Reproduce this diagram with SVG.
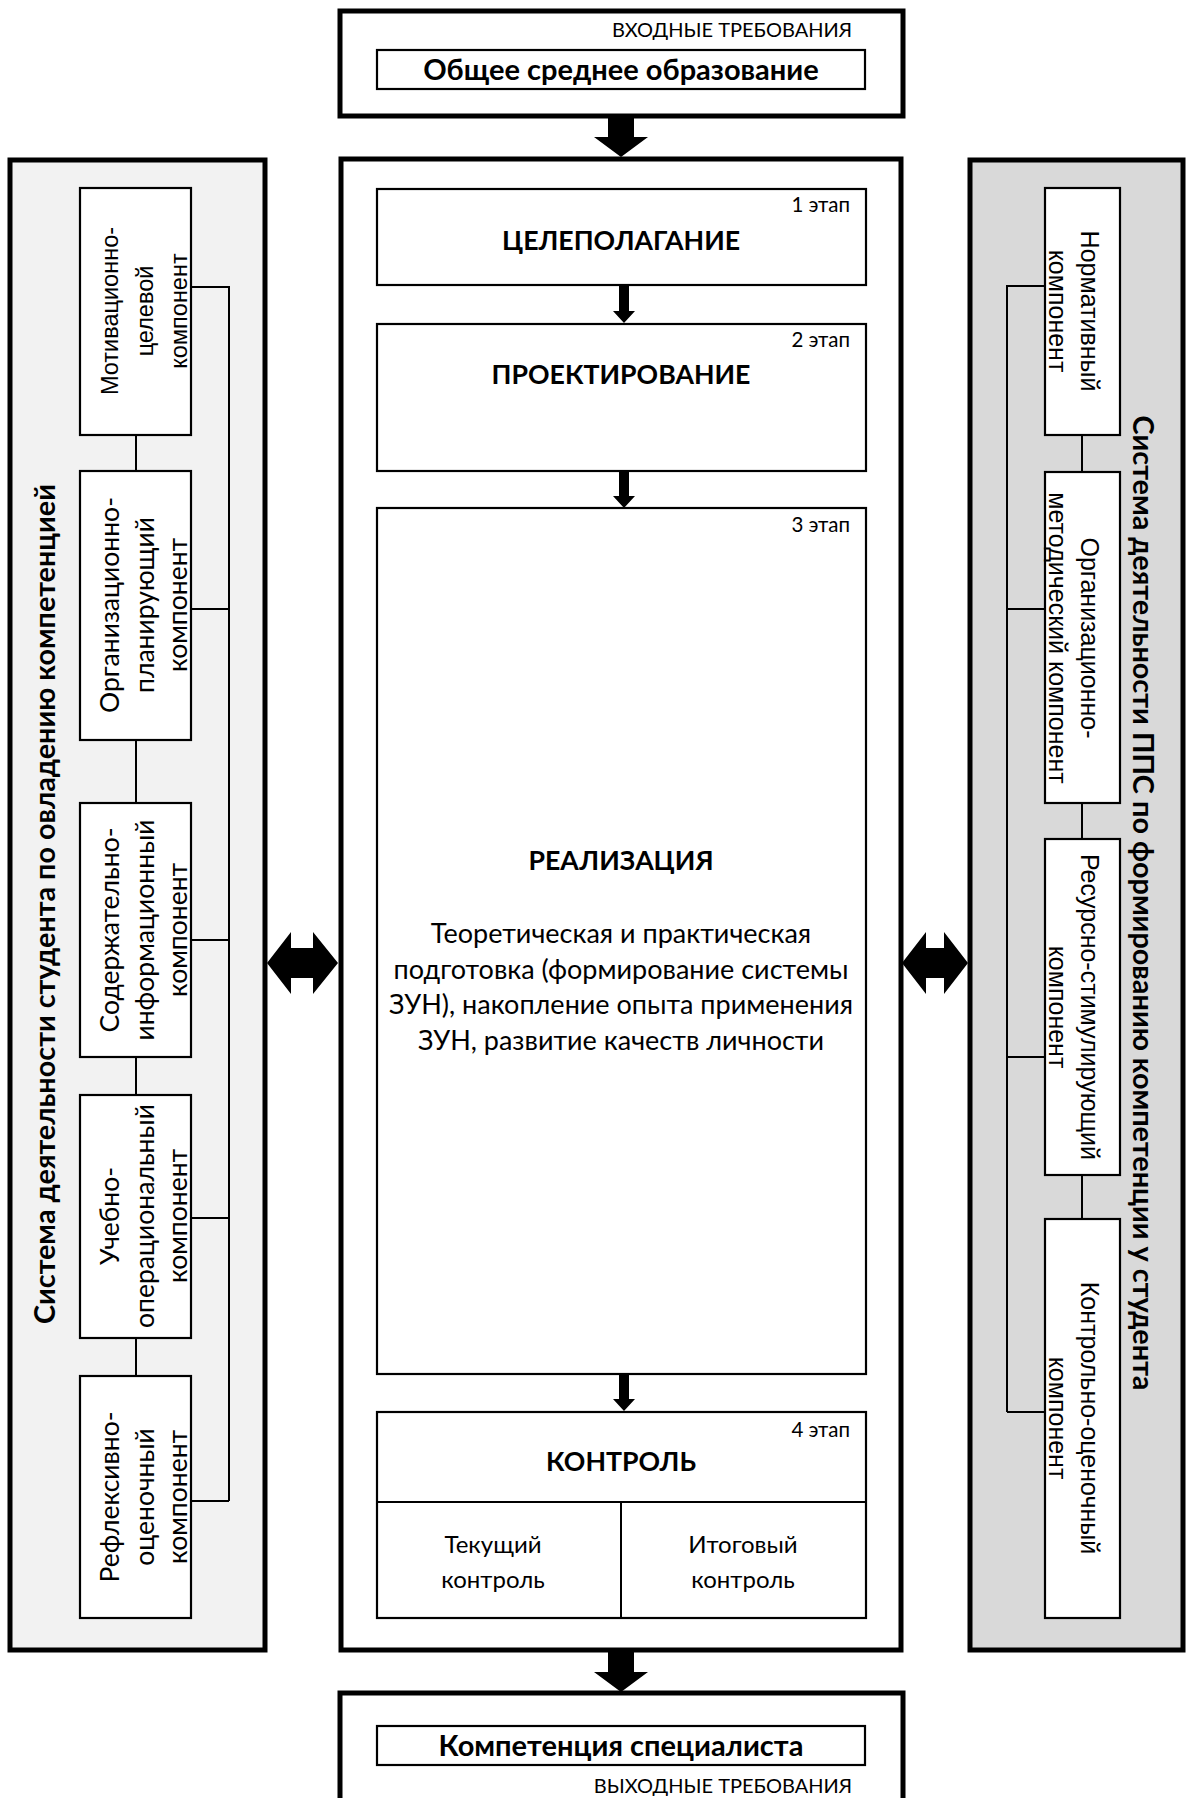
<svg xmlns="http://www.w3.org/2000/svg" width="1187" height="1798" viewBox="0 0 1187 1798">
<style>
.thick{fill:#fff;stroke:#000;stroke-width:5}
.box{fill:#fff;stroke:#000;stroke-width:2.2}
.ln{fill:none;stroke:#000;stroke-width:2}
.arr{fill:#000;stroke:none}
text{fill:#000}
.cap{font-family:Lato,sans-serif;font-size:20px}
.edu{font-family:Lato,sans-serif;font-size:29px;font-weight:700}
.stg{font-family:Lato,sans-serif;font-size:20.5px}
.ttl{font-family:Lato,sans-serif;font-size:26.7px;font-weight:700}
.body{font-family:Lato,sans-serif;font-size:27px}
.ctl{font-family:Lato,sans-serif;font-size:24px}
.comp{font-family:"Liberation Sans",Arial,sans-serif;font-size:23.5px}
.compr{font-family:"Liberation Sans",Arial,sans-serif;font-size:25px}
.compc{font-family:Lato,sans-serif;font-size:26.5px}
.side{font-family:Lato,sans-serif;font-size:28px;font-weight:700}
</style>

<g id="left-panel">
<rect x="10" y="160" width="255" height="1490" fill="#f2f2f2" stroke="#000" stroke-width="5"/>
<text class="side" text-anchor="middle" textLength="840" lengthAdjust="spacingAndGlyphs" transform="translate(55,904) rotate(-90)">Система деятельности студента по овладению компетенцией</text>
</g>
<g id="right-panel">
<rect x="970" y="160" width="213" height="1490" fill="#d9d9d9" stroke="#000" stroke-width="5"/>
<text class="side" text-anchor="middle" textLength="975" lengthAdjust="spacingAndGlyphs" transform="translate(1133,903) rotate(90)">Система деятельности ППС по формированию компетенции у студента</text>
</g>
<g id="center-panel">
<rect class="thick" x="341" y="159" width="560" height="1491"/>
</g>

<g id="input">
<rect class="thick" x="340" y="11" width="563" height="105"/>
<text class="cap" x="852" y="37" text-anchor="end">ВХОДНЫЕ ТРЕБОВАНИЯ</text>
<rect class="box" x="377" y="50" width="488" height="39"/>
<text class="edu" x="621" y="80" text-anchor="middle">Общее среднее образование</text>
</g>

<g id="output">
<rect class="thick" x="340" y="1693" width="563" height="120"/>
<rect class="box" x="377" y="1726" width="488" height="39"/>
<text class="edu" x="621" y="1756" text-anchor="middle">Компетенция специалиста</text>
<text class="cap" x="852" y="1793" text-anchor="end">ВЫХОДНЫЕ ТРЕБОВАНИЯ</text>
</g>

<g id="stage1">
<rect class="box" x="377" y="189" width="489" height="96"/>
<text class="stg" x="850" y="212" text-anchor="end">1 этап</text>
<text class="ttl" x="621" y="250" text-anchor="middle">ЦЕЛЕПОЛАГАНИЕ</text>
</g>
<g id="stage2">
<rect class="box" x="377" y="324" width="489" height="147"/>
<text class="stg" x="850" y="347" text-anchor="end">2 этап</text>
<text class="ttl" x="621" y="384" text-anchor="middle">ПРОЕКТИРОВАНИЕ</text>
</g>
<g id="stage3">
<rect class="box" x="377" y="508" width="489" height="866"/>
<text class="stg" x="850" y="532" text-anchor="end">3 этап</text>
<text class="ttl" x="621" y="870" text-anchor="middle">РЕАЛИЗАЦИЯ</text>
<text class="body" text-anchor="middle"><tspan x="621" y="943">Теоретическая и практическая</tspan><tspan x="621" y="978.5">подготовка (формирование системы</tspan><tspan x="621" y="1014">ЗУН), накопление опыта применения</tspan><tspan x="621" y="1049.5">ЗУН, развитие качеств личности</tspan></text>
</g>
<g id="stage4">
<rect class="box" x="377" y="1412" width="489" height="206"/>
<line class="ln" x1="377" y1="1502" x2="866" y2="1502"/>
<line class="ln" x1="621" y1="1502" x2="621" y2="1618"/>
<text class="stg" x="850" y="1437" text-anchor="end">4 этап</text>
<text class="ttl" x="621" y="1471" text-anchor="middle">КОНТРОЛЬ</text>
<text class="ctl" text-anchor="middle"><tspan x="493" y="1553">Текущий</tspan><tspan x="493" y="1588">контроль</tspan></text>
<text class="ctl" text-anchor="middle"><tspan x="743" y="1553">Итоговый</tspan><tspan x="743" y="1588">контроль</tspan></text>
</g>

<g id="l1">
<rect class="box" x="80" y="188" width="111" height="247"/>
<text class="comp" text-anchor="middle" transform="translate(118,311) rotate(-90)">Мотивационно-</text>
<text class="comp" text-anchor="middle" transform="translate(153,311) rotate(-90)">целевой</text>
<text class="comp" text-anchor="middle" transform="translate(187,311) rotate(-90)">компонент</text>
</g>
<g id="l2">
<rect class="box" x="80" y="471" width="111" height="269"/>
<text class="compc" text-anchor="middle" transform="translate(119,605) rotate(-90)">Организационно-</text>
<text class="compc" text-anchor="middle" transform="translate(154,605) rotate(-90)">планирующий</text>
<text class="compc" text-anchor="middle" transform="translate(187,605) rotate(-90)">компонент</text>
</g>
<g id="l3">
<rect class="box" x="80" y="803" width="111" height="254"/>
<text class="compc" text-anchor="middle" transform="translate(119,930) rotate(-90)">Содержательно-</text>
<text class="compc" text-anchor="middle" transform="translate(154,930) rotate(-90)">информационный</text>
<text class="compc" text-anchor="middle" transform="translate(187,930) rotate(-90)">компонент</text>
</g>
<g id="l4">
<rect class="box" x="80" y="1095" width="111" height="243"/>
<text class="compc" text-anchor="middle" transform="translate(119,1216) rotate(-90)">Учебно-</text>
<text class="compc" text-anchor="middle" transform="translate(154,1216) rotate(-90)">операциональный</text>
<text class="compc" text-anchor="middle" transform="translate(187,1216) rotate(-90)">компонент</text>
</g>
<g id="l5">
<rect class="box" x="80" y="1376" width="111" height="242"/>
<text class="compc" text-anchor="middle" transform="translate(119,1497) rotate(-90)">Рефлексивно-</text>
<text class="compc" text-anchor="middle" transform="translate(154,1497) rotate(-90)">оценочный</text>
<text class="compc" text-anchor="middle" transform="translate(187,1497) rotate(-90)">компонент</text>
</g>

<g id="r1">
<rect class="box" x="1045" y="188" width="75" height="247"/>
<text class="compr" text-anchor="middle" transform="translate(1081,311) rotate(90)">Нормативный</text>
<text class="compr" text-anchor="middle" transform="translate(1049,311) rotate(90)">компонент</text>
</g>
<g id="r2">
<rect class="box" x="1045" y="472" width="75" height="331"/>
<text class="compr" text-anchor="middle" transform="translate(1081,638) rotate(90)">Организационно-</text>
<text class="compr" text-anchor="middle" transform="translate(1049,638) rotate(90)">методический компонент</text>
</g>
<g id="r3">
<rect class="box" x="1045" y="839" width="75" height="336"/>
<text class="compr" text-anchor="middle" transform="translate(1081,1007) rotate(90)">Ресурсно-стимулирующий</text>
<text class="compr" text-anchor="middle" transform="translate(1049,1007) rotate(90)">компонент</text>
</g>
<g id="r4">
<rect class="box" x="1045" y="1219" width="75" height="399"/>
<text class="compr" text-anchor="middle" transform="translate(1081,1418) rotate(90)">Контрольно-оценочный</text>
<text class="compr" text-anchor="middle" transform="translate(1049,1418) rotate(90)">компонент</text>
</g>

<g id="connectors">
<path class="ln" d="M191 287H229V1501M191 609H229M191 940H229M191 1218H229M191 1501H229"/>
<path class="ln" d="M136 435V471M136 740V803M136 1057V1095M136 1338V1376"/>
<path class="ln" d="M1045 286H1007V1412M1045 609H1007M1045 1057H1007M1045 1412H1007"/>
<path class="ln" d="M1082 435V472M1082 803V839M1082 1175V1219"/>
<path class="arr" d="M608 116H634V137H648L621 157L594 137H608Z"/>
<path class="arr" d="M608 1652H634V1672H648L621 1692L594 1672H608Z"/>
<path class="arr" d="M619 285H629V311H635L624 323L613 311H619Z"/>
<path class="arr" d="M619 471H629V496H635L624 508L613 496H619Z"/>
<path class="arr" d="M619 1374H629V1399H635L624 1411L613 1399H619Z"/>
<path class="arr" d="M267 963L291 932V948H313V932L338 963L313 994V978H291V994Z"/>
<path class="arr" d="M902 963L926 932V948H944V932L968 963L944 994V978H926V994Z"/>
</g>
</svg>
